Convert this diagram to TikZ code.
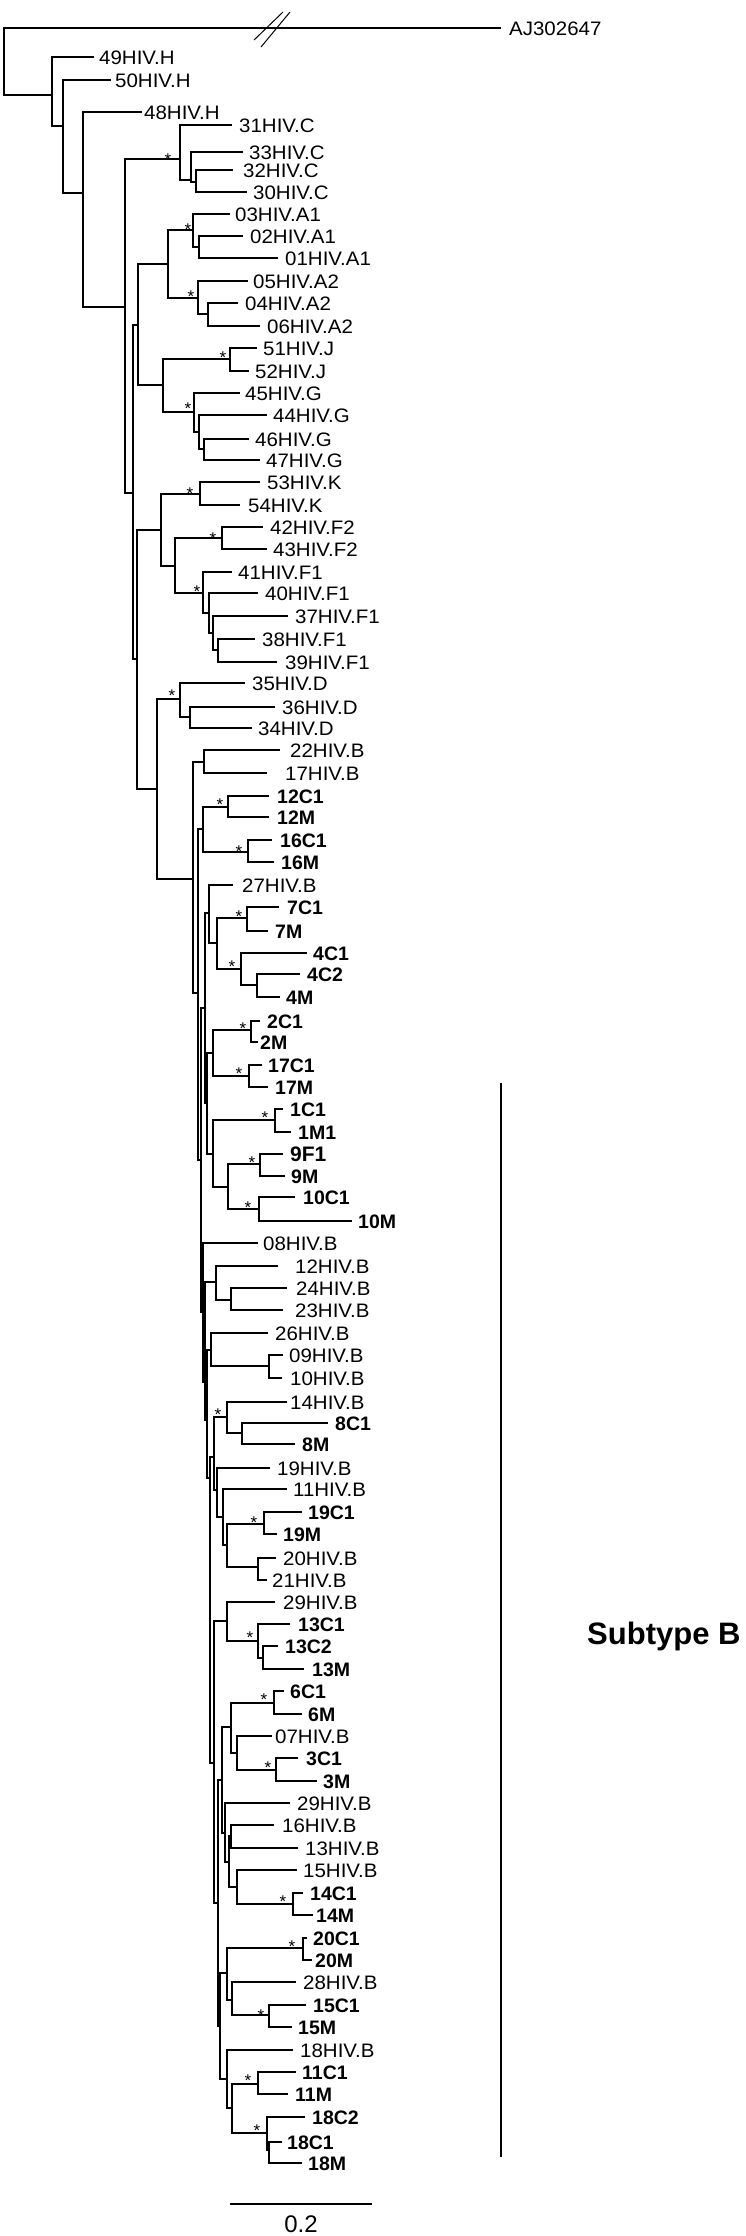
\documentclass[tikz,border=0pt]{standalone}
\usepackage{fontspec}
\setmainfont{Liberation Sans}
\newfontfamily\regf[FakeStretch=1.05]{Liberation Sans}
\tikzset{
 branch/.style={draw=black, line width=1.2pt},
 lab/.style={font=\fontsize{19.5}{20}\regf, inner sep=0pt, anchor=base west},
 blab/.style={font=\fontsize{19.5}{20}\selectfont\bfseries, inner sep=0pt, anchor=base west},
 bigblab/.style={font=\fontsize{21}{22}\selectfont\bfseries, inner sep=0pt, anchor=base west},
 bstar/.style={font=\fontsize{17}{17}\selectfont, inner sep=0pt, anchor=base},
}
\newcommand{\leafnode}[6]{\coordinate (#1) at (#2,#3); \node[#6] (#1l) at (#4,{#3+7}) {#5};}
\newcommand{\inode}[3]{\coordinate (#1) at (#2,#3);}
\newcommand{\starat}[3]{\node[bstar] (#1) at (#2,{#3+10}) {*};}
\newcommand{\kids}[3]{\draw[branch] (#1) |- (#2); \draw[branch] (#1) |- (#3);}
\begin{document}
\begin{tikzpicture}[x=1pt,y=-1pt]
\useasboundingbox (0,0) rectangle (746,2236);
% ---- outer part
\inode{root}{4}{60}
\leafnode{AJ}{501}{28}{509}{AJ302647}{lab}
\inode{R1}{52}{95}
\kids{root}{AJ}{R1}
\leafnode{H49}{94}{57}{99}{49HIV.H}{lab}
\inode{R2}{63}{126}
\kids{R1}{H49}{R2}
\leafnode{H50}{111}{80}{115}{50HIV.H}{lab}
\inode{N1}{83}{193}
\kids{R2}{H50}{N1}
\leafnode{H48}{142}{112}{144}{48HIV.H}{lab}
\inode{N2}{125}{307}
\kids{N1}{H48}{N2}
\inode{cC}{180}{159}
\inode{N3}{133}{493}
\kids{N2}{cC}{N3}
% break marks
\coordinate (bk1a) at (254,40); \coordinate (bk1b) at (283,12);
\coordinate (bk2a) at (261,47); \coordinate (bk2b) at (290,12);
\draw[branch,line width=1pt] (bk1a) -- (bk1b);
\draw[branch,line width=1pt] (bk2a) -- (bk2b);
% ---- C
\leafnode{C31}{232}{125}{239}{31HIV.C}{lab}
\inode{cCb}{191}{180}
\kids{cC}{C31}{cCb}
\leafnode{C33}{243}{152}{249}{33HIV.C}{lab}
\inode{cCc}{196}{182}
\kids{cCb}{C33}{cCc}
\leafnode{C32}{233}{170}{243}{32HIV.C}{lab}
\leafnode{C30}{247}{192}{253}{30HIV.C}{lab}
\kids{cCc}{C32}{C30}
\starat{sC}{168}{155}
% ---- A J G
\inode{cAJG}{138}{325}
\inode{N4}{137}{659}
\kids{N3}{cAJG}{N4}
\inode{cA}{168}{264}
\inode{cJG}{163}{385}
\kids{cAJG}{cA}{cJG}
\inode{cA1}{193}{230}
\inode{cA2}{198}{298}
\kids{cA}{cA1}{cA2}
\leafnode{A03}{230}{214}{235}{03HIV.A1}{lab}
\inode{cA1s}{199}{247}
\kids{cA1}{A03}{cA1s}
\leafnode{A02}{243}{236}{250}{02HIV.A1}{lab}
\leafnode{A01}{278}{258}{285}{01HIV.A1}{lab}
\kids{cA1s}{A02}{A01}
\leafnode{A05}{248}{281}{253}{05HIV.A2}{lab}
\inode{cA2s}{208}{314}
\kids{cA2}{A05}{cA2s}
\leafnode{A04}{238}{303}{245}{04HIV.A2}{lab}
\leafnode{A06}{260}{326}{267}{06HIV.A2}{lab}
\kids{cA2s}{A04}{A06}
\starat{sA1}{188}{225}
\starat{sA2}{191}{292}
\inode{cJ}{230}{359}
\inode{cG}{194}{412}
\kids{cJG}{cJ}{cG}
\leafnode{J51}{257}{348}{263}{51HIV.J}{lab}
\leafnode{J52}{249}{371}{255}{52HIV.J}{lab}
\kids{cJ}{J51}{J52}
\starat{sJ}{223}{353}
\leafnode{G45}{240}{393}{245}{45HIV.G}{lab}
\inode{cG2}{199}{432}
\kids{cG}{G45}{cG2}
\leafnode{G44}{267}{415}{273}{44HIV.G}{lab}
\inode{cG3}{204}{449}
\kids{cG2}{G44}{cG3}
\leafnode{G46}{249}{439}{255}{46HIV.G}{lab}
\leafnode{G47}{260}{460}{266}{47HIV.G}{lab}
\kids{cG3}{G46}{G47}
\starat{sG}{188}{404}
% ---- K F
\inode{cKF}{161}{530}
\inode{cDB}{157}{789}
\kids{N4}{cKF}{cDB}
\inode{cK}{200}{494}
\inode{cF}{175}{566}
\kids{cKF}{cK}{cF}
\leafnode{K53}{260}{482}{267}{53HIV.K}{lab}
\leafnode{K54}{240}{505}{248}{54HIV.K}{lab}
\kids{cK}{K53}{K54}
\starat{sK}{190}{489}
\inode{cF2}{222}{538}
\inode{cF1}{203}{593}
\kids{cF}{cF2}{cF1}
\leafnode{F42}{263}{527}{270}{42HIV.F2}{lab}
\leafnode{F43}{267}{549}{273}{43HIV.F2}{lab}
\kids{cF2}{F42}{F43}
\starat{sF2}{213}{534}
\leafnode{F41}{232}{572}{238}{41HIV.F1}{lab}
\inode{cF1b}{209}{613}
\kids{cF1}{F41}{cF1b}
\starat{sF1}{197}{587}
\leafnode{F40}{258}{593}{265}{40HIV.F1}{lab}
\inode{cF1c}{213}{633}
\kids{cF1b}{F40}{cF1c}
\leafnode{F37}{288}{616}{295}{37HIV.F1}{lab}
\inode{cF1d}{218}{650}
\kids{cF1c}{F37}{cF1d}
\leafnode{F38}{255}{639}{262}{38HIV.F1}{lab}
\leafnode{F39}{277}{662}{285}{39HIV.F1}{lab}
\kids{cF1d}{F38}{F39}
% ---- D
\inode{cD}{180}{699}
\inode{K0}{193}{879}
\kids{cDB}{cD}{K0}
\leafnode{D35}{245}{683}{252}{35HIV.D}{lab}
\inode{cDs}{190}{717}
\kids{cD}{D35}{cDs}
\leafnode{D36}{275}{707}{282}{36HIV.D}{lab}
\leafnode{D34}{252}{728}{258}{34HIV.D}{lab}
\kids{cDs}{D36}{D34}
\starat{sD}{172}{691}
% ---- B
\inode{c2217}{204}{762}
\inode{K1}{198}{993}
\kids{K0}{c2217}{K1}
\leafnode{B22}{280}{750}{290}{22HIV.B}{lab}
\leafnode{B17}{267}{773}{285}{17HIV.B}{lab}
\kids{c2217}{B22}{B17}
\inode{c1216}{203}{829}
\inode{K2}{201}{1160}
\kids{K1}{c1216}{K2}
\inode{c12}{228}{807}
\inode{c16}{248}{852}
\kids{c1216}{c12}{c16}
\leafnode{X12C1}{269}{796}{277}{12C1}{blab}
\leafnode{X12M}{269}{817}{277}{12M}{blab}
\kids{c12}{X12C1}{X12M}
\starat{s12}{220}{800}
\leafnode{X16C1}{272}{840}{280}{16C1}{blab}
\leafnode{X16M}{274}{862}{281}{16M}{blab}
\kids{c16}{X16C1}{X16M}
\starat{s16}{239}{847}
\inode{K3}{205}{1008}
\inode{K4}{203}{1312}
\kids{K2}{K3}{K4}
\inode{c27}{209}{913}
\inode{c2to10}{207}{1103}
\kids{K3}{c27}{c2to10}
\leafnode{B27}{233}{885}{242}{27HIV.B}{lab}
\inode{c74}{217}{943}
\kids{c27}{B27}{c74}
\inode{c7}{247}{918}
\inode{c4}{241}{969}
\kids{c74}{c7}{c4}
\leafnode{X7C1}{279}{907}{287}{7C1}{blab}
\leafnode{X7M}{268}{931}{275}{7M}{blab}
\kids{c7}{X7C1}{X7M}
\starat{s7}{239}{912}
\leafnode{X4C1}{307}{953}{313}{4C1}{blab}
\inode{c4s}{257}{985}
\kids{c4}{X4C1}{c4s}
\leafnode{X4C2}{300}{974}{307}{4C2}{blab}
\leafnode{X4M}{280}{997}{286}{4M}{blab}
\kids{c4s}{X4C2}{X4M}
\starat{s4}{232}{962}
\inode{c217}{213}{1053}
\inode{c1910}{213}{1154}
\kids{c2to10}{c217}{c1910}
\inode{c2}{251}{1030}
\inode{c17}{249}{1076}
\kids{c217}{c2}{c17}
\leafnode{X2C1}{260}{1021}{267}{2C1}{blab}
\leafnode{X2M}{258}{1042}{260}{2M}{blab}
\kids{c2}{X2C1}{X2M}
\starat{s2}{243}{1024}
\leafnode{X17C1}{262}{1065}{268}{17C1}{blab}
\leafnode{X17M}{268}{1087}{275}{17M}{blab}
\kids{c17}{X17C1}{X17M}
\starat{s17}{239}{1069}
\inode{c1}{275}{1120}
\inode{c910}{228}{1187}
\kids{c1910}{c1}{c910}
\leafnode{X1C1}{283}{1109}{290}{1C1}{blab}
\leafnode{X1M1}{291}{1132}{298}{1M1}{blab}
\kids{c1}{X1C1}{X1M1}
\starat{s1}{265}{1113}
\inode{c9}{260}{1164}
\inode{c10}{259}{1209}
\kids{c910}{c9}{c10}
\leafnode{X9F1}{283}{1154}{290}{9F1}{bigblab}
\leafnode{X9M}{285}{1176}{291}{9M}{blab}
\kids{c9}{X9F1}{X9M}
\starat{s9}{252}{1158}
\leafnode{X10C1}{295}{1197}{303}{10C1}{blab}
\leafnode{X10M}{352}{1221}{358}{10M}{blab}
\kids{c10}{X10C1}{X10M}
\starat{s10}{248}{1203}
\leafnode{B08}{258}{1243}{263}{08HIV.B}{lab}
\inode{K5}{205}{1382}
\kids{K4}{B08}{K5}
\inode{c122423}{216}{1282}
\inode{K6}{207}{1420}
\kids{K5}{c122423}{K6}
\leafnode{B12}{278}{1266}{295}{12HIV.B}{lab}
\inode{c2423}{231}{1300}
\kids{c122423}{B12}{c2423}
\leafnode{B24}{287}{1288}{296}{24HIV.B}{lab}
\leafnode{B23}{283}{1310}{295}{23HIV.B}{lab}
\kids{c2423}{B24}{B23}
\inode{c260910}{211}{1350}
\inode{K7}{210}{1478}
\kids{K6}{c260910}{K7}
\leafnode{B26}{268}{1333}{275}{26HIV.B}{lab}
\inode{c0910}{269}{1366}
\kids{c260910}{B26}{c0910}
\leafnode{B09}{283}{1355}{289}{09HIV.B}{lab}
\leafnode{B10}{282}{1378}{290}{10HIV.B}{lab}
\kids{c0910}{B09}{B10}
\inode{c14to21}{214}{1457}
\inode{K8}{214}{1763}
\kids{K7}{c14to21}{K8}
\inode{c148}{227}{1417}
\inode{c19to21}{217}{1490}
\kids{c14to21}{c148}{c19to21}
\leafnode{B14}{287}{1402}{290}{14HIV.B}{lab}
\inode{c8}{242}{1433}
\kids{c148}{B14}{c8}
\starat{s148}{218}{1410}
\leafnode{X8C1}{328}{1423}{335}{8C1}{blab}
\leafnode{X8M}{295}{1444}{302}{8M}{blab}
\kids{c8}{X8C1}{X8M}
\leafnode{B19}{270}{1468}{277}{19HIV.B}{lab}
\inode{c111920}{223}{1517}
\kids{c19to21}{B19}{c111920}
\leafnode{B11}{287}{1489}{293}{11HIV.B}{lab}
\inode{c1920}{227}{1545}
\kids{c111920}{B11}{c1920}
\inode{c19}{264}{1524}
\inode{c2021}{258}{1567}
\kids{c1920}{c19}{c2021}
\leafnode{X19C1}{302}{1512}{308}{19C1}{blab}
\leafnode{X19M}{277}{1534}{283}{19M}{blab}
\kids{c19}{X19C1}{X19M}
\starat{s19}{254}{1518}
\leafnode{B20}{276}{1558}{283}{20HIV.B}{lab}
\leafnode{B21}{267}{1580}{272}{21HIV.B}{lab}
\kids{c2021}{B20}{B21}
\inode{c2913}{227}{1621}
\inode{K9}{218}{1903}
\kids{K8}{c2913}{K9}
\leafnode{B29a}{275}{1602}{283}{29HIV.B}{lab}
\inode{c13}{258}{1641}
\kids{c2913}{B29a}{c13}
\leafnode{X13C1}{290}{1624}{298}{13C1}{blab}
\inode{c13s}{263}{1658}
\kids{c13}{X13C1}{c13s}
\leafnode{X13C2}{278}{1646}{285}{13C2}{blab}
\leafnode{X13M}{304}{1669}{312}{13M}{blab}
\kids{c13s}{X13C2}{X13M}
\starat{s13}{250}{1633}
\inode{K10}{222}{1780}
\inode{K11}{220}{2026}
\kids{K9}{K10}{K11}
\inode{c6073}{231}{1727}
\inode{c29b}{225}{1833}
\kids{K10}{c6073}{c29b}
\inode{c6}{274}{1703}
\inode{c073}{237}{1753}
\kids{c6073}{c6}{c073}
\leafnode{X6C1}{284}{1691}{290}{6C1}{blab}
\leafnode{X6M}{302}{1714}{308}{6M}{blab}
\kids{c6}{X6C1}{X6M}
\starat{s6}{264}{1695}
\leafnode{B07}{272}{1736}{275}{07HIV.B}{lab}
\inode{c3}{276}{1770}
\kids{c073}{B07}{c3}
\leafnode{X3C1}{298}{1758}{306}{3C1}{blab}
\leafnode{X3M}{317}{1781}{323}{3M}{blab}
\kids{c3}{X3C1}{X3M}
\starat{s3}{268}{1763}
\leafnode{B29b}{290}{1803}{297}{29HIV.B}{lab}
\inode{c16to14}{229}{1862}
\kids{c29b}{B29b}{c16to14}
\inode{c1613}{231}{1836}
\inode{c1514}{237}{1887}
\kids{c16to14}{c1613}{c1514}
\leafnode{B16}{274}{1825}{282}{16HIV.B}{lab}
\leafnode{B13}{298}{1848}{305}{13HIV.B}{lab}
\kids{c1613}{B16}{B13}
\leafnode{B15}{297}{1870}{303}{15HIV.B}{lab}
\inode{c14}{293}{1904}
\kids{c1514}{B15}{c14}
\leafnode{X14C1}{303}{1893}{310}{14C1}{blab}
\leafnode{X14M}{313}{1915}{316}{14M}{blab}
\kids{c14}{X14C1}{X14M}
\starat{s14}{283}{1897}
\inode{c202815}{227}{1973}
\inode{c18H}{227}{2079}
\kids{K11}{c202815}{c18H}
\inode{c20}{303}{1948}
\inode{c2815}{232}{2000}
\kids{c202815}{c20}{c2815}
\leafnode{X20C1}{307}{1938}{313}{20C1}{blab}
\leafnode{X20M}{312}{1960}{315}{20M}{blab}
\kids{c20}{X20C1}{X20M}
\starat{s20}{292}{1942}
\leafnode{B28}{296}{1982}{303}{28HIV.B}{lab}
\inode{c15}{269}{2015}
\kids{c2815}{B28}{c15}
\leafnode{X15C1}{306}{2005}{313}{15C1}{blab}
\leafnode{X15M}{292}{2027}{298}{15M}{blab}
\kids{c15}{X15C1}{X15M}
\starat{s15}{261}{2011}
\leafnode{B18}{293}{2050}{300}{18HIV.B}{lab}
\inode{c1118}{232}{2108}
\kids{c18H}{B18}{c1118}
\inode{c11}{258}{2084}
\inode{c18}{267}{2133}
\kids{c1118}{c11}{c18}
\leafnode{X11C1}{296}{2072}{302}{11C1}{blab}
\leafnode{X11M}{288}{2094}{295}{11M}{blab}
\kids{c11}{X11C1}{X11M}
\starat{s11}{248}{2076}
\leafnode{X18C2}{305}{2117}{312}{18C2}{blab}
\inode{c18s}{269}{2150}
\kids{c18}{X18C2}{c18s}
\leafnode{X18C1}{282}{2142}{287}{18C1}{blab}
\leafnode{X18M}{302}{2163}{308}{18M}{blab}
\kids{c18s}{X18C1}{X18M}
\starat{s18}{257}{2126}
% ---- subtype B bracket
\coordinate (sbt) at (501,1083);
\coordinate (sbb) at (501,2157);
\draw[branch] (sbt) -- (sbb);
\node[font=\fontsize{31}{32}\selectfont\bfseries, inner sep=0pt, anchor=west] (sub) at (587,1636) {Subtype B};
% ---- scale bar
\coordinate (sc1) at (230,2204);
\coordinate (sc2) at (372,2204);
\draw[branch] (sc1) -- (sc2);
\node[font=\fontsize{24}{24}\selectfont, inner sep=0pt, anchor=base] (scl) at (301,2232) {0.2};
\end{tikzpicture}
\end{document}
